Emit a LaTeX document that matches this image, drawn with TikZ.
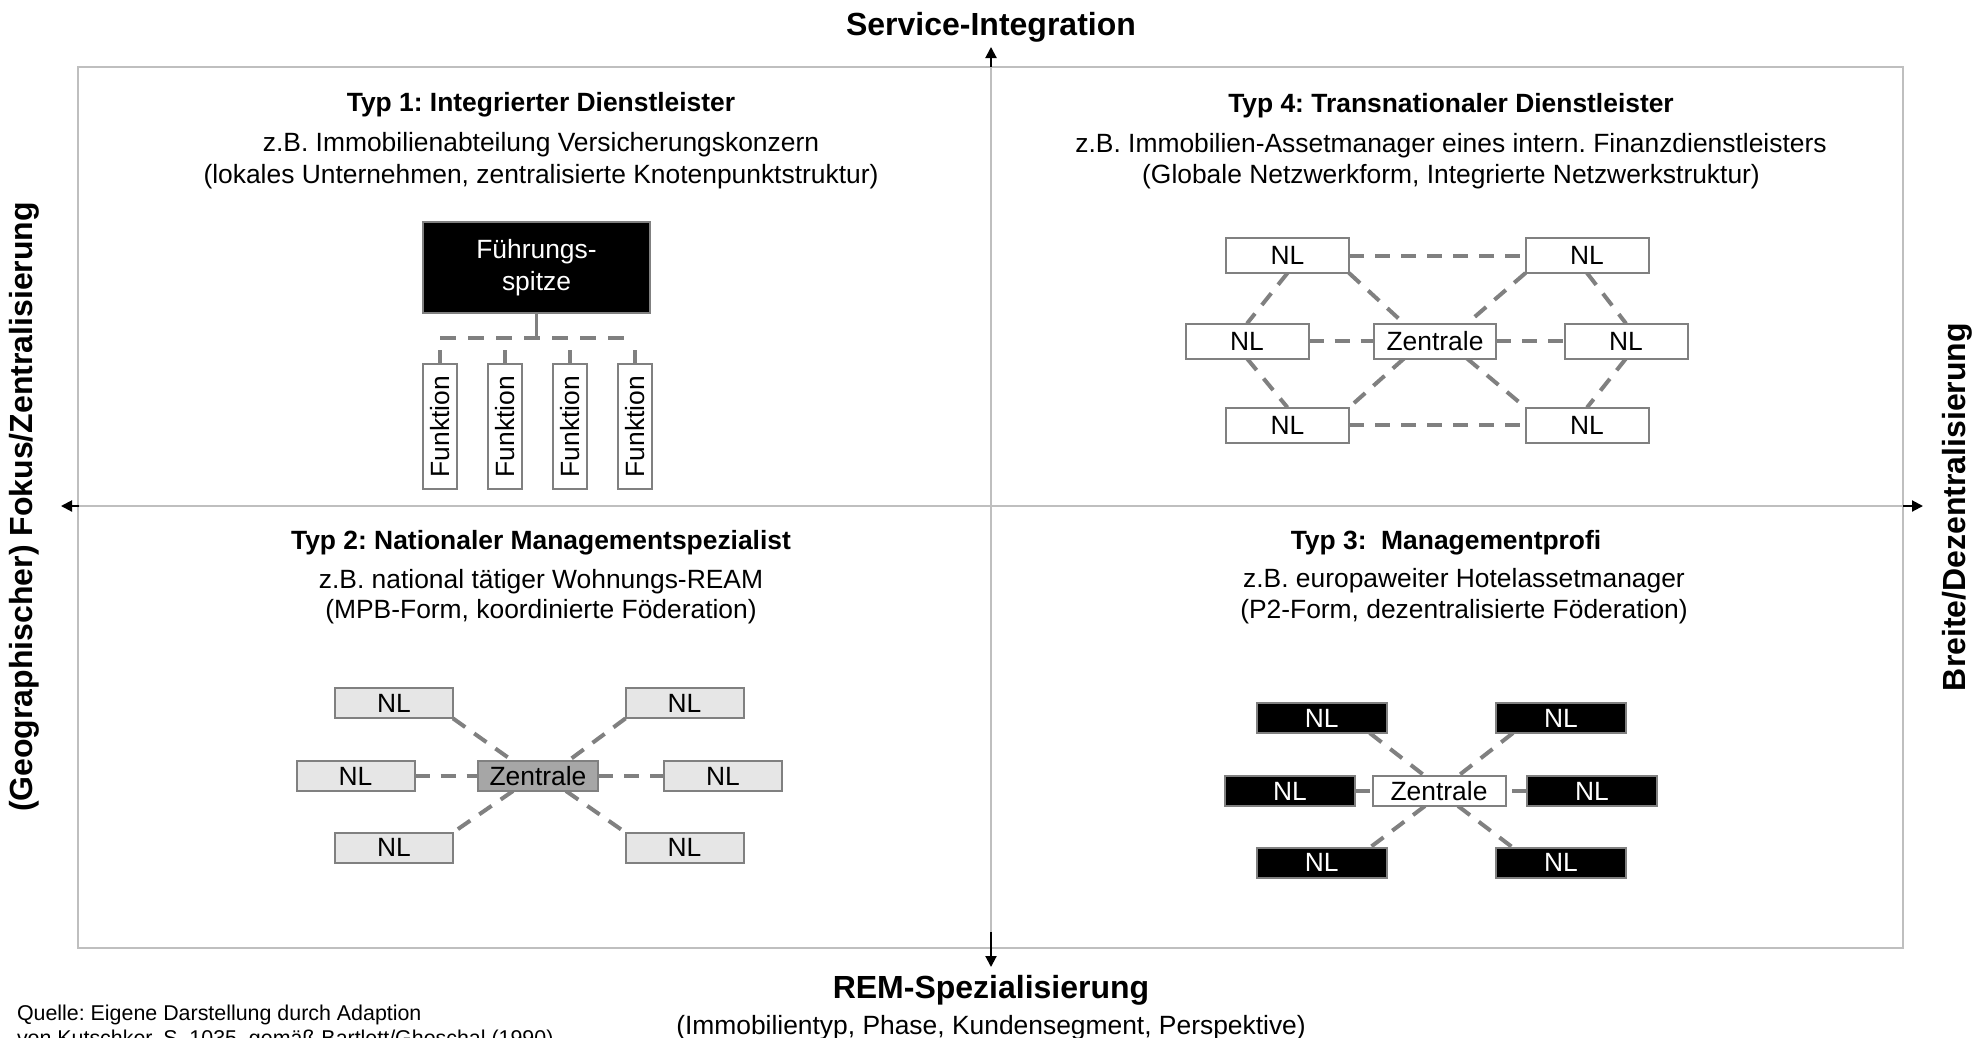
\documentclass[tikz,border=0pt]{standalone}
\usepackage{fontspec}
\setmainfont{Liberation Sans}
\usetikzlibrary{arrows.meta,calc,backgrounds}
\frenchspacing

\definecolor{framegray}{HTML}{BFBFBF}
\definecolor{linegray}{HTML}{808080}
\definecolor{lightfill}{HTML}{E6E6E6}
\definecolor{midfill}{HTML}{A6A6A6}

\tikzset{
  every node/.style={inner sep=0pt, outer sep=0pt},
  body/.style={font=\fontsize{26.4}{32}\selectfont, anchor=base},
  head/.style={font=\fontsize{26.4}{32}\selectfont\bfseries, anchor=base},
  axislabel/.style={font=\fontsize{32}{38}\selectfont\bfseries},
  note/.style={font=\fontsize{21.4}{25}\selectfont, anchor=base west},
  box/.style={draw=linegray, line width=2pt, font=\fontsize{26.4}{32}\selectfont},
  nlwhite/.style={box, fill=white, minimum width=123pt, minimum height=35pt},
  nlgray/.style={box, fill=lightfill, minimum width=118pt, minimum height=30pt},
  nlblack/.style={box, fill=black, text=white, minimum width=130pt, minimum height=30pt},
  funcbox/.style={box, fill=white, rotate=90, minimum width=125pt, minimum height=34pt},
  link/.style={draw=linegray, line width=4pt, dash pattern=on 15pt off 11pt},
  stub/.style={draw=linegray, line width=3.5pt},
  axisline/.style={draw=framegray, line width=1.6pt},
  axarrow/.style={draw=black, line width=2pt, -{Triangle[length=11pt,width=11pt]}},
}

\begin{document}
\begin{tikzpicture}[x=1pt,y=-1pt]
\useasboundingbox (0,0) rectangle (1986,1037);

% ---------- axes and frame ----------
\coordinate (ftl) at (78,67);
\coordinate (fbr) at (1903,948);
\coordinate (axtop) at (991,67);
\coordinate (axbot) at (991,932);
\coordinate (axleft) at (79,506);
\coordinate (axright) at (1903,506);

% ---------- axis labels ----------
\node[axislabel, anchor=base] (lblsi) at (991,35) {Service-Integration};
\node[axislabel, anchor=base] (lblrem) at (991,998) {REM-Spezialisierung};
\node[body] (lblremsub) at (991,1034) {(Immobilientyp, Phase, Kundensegment, Perspektive)};
\node[axislabel, rotate=90] (lblleft) at (24,507) {(Geographischer) Fokus/Zentralisierung};
\node[axislabel, rotate=90] (lblright) at (1957,507) {Breite/Dezentralisierung};

\node[note] (src1) at (17,1020) {Quelle: Eigene Darstellung durch Adaption};
\node[note] (src2) at (17,1045) {von Kutschker, S. 1035, gemäß Bartlett/Ghoschal (1990)};

% ---------- Typ 1 ----------
\node[head] (t1) at (541,111) {Typ 1: Integrierter Dienstleister};
\node[body] (t1a) at (541,151) {z.B. Immobilienabteilung Versicherungskonzern};
\node[body] (t1b) at (541,183) {(lokales Unternehmen, zentralisierte Knotenpunktstruktur)};

\node[box, fill=black, text=white, minimum width=227pt, minimum height=91pt, align=center] (fs) at (536.5,267.5) {Führungs-\\spitze};
\node[funcbox] (f1) at (440,426.5) {Funktion};
\node[funcbox] (f2) at (505,426.5) {Funktion};
\node[funcbox] (f3) at (570,426.5) {Funktion};
\node[funcbox] (f4) at (635,426.5) {Funktion};

% ---------- Typ 4 ----------
\node[head] (t4) at (1451,112) {Typ 4: Transnationaler Dienstleister};
\node[body] (t4a) at (1451,152) {z.B. Immobilien-Assetmanager eines intern. Finanzdienstleisters};
\node[body] (t4b) at (1451,183) {(Globale Netzwerkform, Integrierte Netzwerkstruktur)};

\node[nlwhite] (q4tl) at (1287.5,255.5) {NL};
\node[nlwhite] (q4tr) at (1587,255.5) {NL};
\node[nlwhite] (q4ml) at (1247,341) {NL};
\node[nlwhite, minimum width=122pt] (q4z) at (1435,341) {Zentrale};
\node[nlwhite] (q4mr) at (1626,341) {NL};
\node[nlwhite] (q4bl) at (1287.5,425) {NL};
\node[nlwhite] (q4br) at (1587,425) {NL};

% ---------- Typ 2 ----------
\node[head] (t2) at (541,549) {Typ 2: Nationaler Managementspezialist};
\node[body] (t2a) at (541,588) {z.B. national tätiger Wohnungs-REAM};
\node[body] (t2b) at (541,618) {(MPB-Form, koordinierte Föderation)};

\node[nlgray] (q2tl) at (394,703.4) {NL};
\node[nlgray] (q2tr) at (684.5,703.4) {NL};
\node[nlgray] (q2ml) at (355.5,776) {NL};
\node[nlgray, fill=midfill, minimum width=120pt] (q2z) at (538,776) {Zentrale};
\node[nlgray] (q2mr) at (723,776) {NL};
\node[nlgray] (q2bl) at (394,847.5) {NL};
\node[nlgray] (q2br) at (684.5,847.5) {NL};

% ---------- Typ 3 ----------
\node[head] (t3) at (1446,549) {Typ 3:~~Managementprofi};
\node[body] (t3a) at (1464,587) {z.B. europaweiter Hotelassetmanager};
\node[body] (t3b) at (1464,618) {(P2-Form, dezentralisierte Föderation)};

\node[nlblack] (q3tl) at (1321.7,718) {NL};
\node[nlblack] (q3tr) at (1561,718) {NL};
\node[nlblack] (q3ml) at (1290,791) {NL};
\node[nlblack, fill=white, text=black, minimum width=133pt] (q3z) at (1439,791) {Zentrale};
\node[nlblack] (q3mr) at (1592,791) {NL};
\node[nlblack] (q3bl) at (1321.7,862.7) {NL};
\node[nlblack] (q3br) at (1561,862.7) {NL};

\begin{scope}[on background layer]
  \fill[white] (0,0) rectangle (1986,1037);
  % frame and axes
  \draw[axisline] (ftl) rectangle (fbr);
  \draw[axisline] (axleft) -- (axright);
  \draw[axisline] (axtop) -- (axbot);
  \draw[axarrow] (axtop) -- ++(0,-20);
  \draw[axarrow] (axbot) -- ++(0,35);
  \draw[axarrow] (axleft) -- ++(-18,0);
  \draw[axarrow] (axright) -- ++(20,0);

  % Typ 1: hierarchy
  \draw[stub] (fs.south) -- ++(0,25) coordinate (bus);
  \draw[link, dash pattern=on 16pt off 12pt] (f1.east |- bus) -- (f4.east |- bus);
  \foreach \f in {f1,f2,f3,f4} {
    \draw[stub] (\f.east) -- ++(0,-14);
  }

  % Typ 4: integrated network
  \draw[link] (q4tl.east) -- (q4tr.west);
  \draw[link] (q4tl.south) -- (q4ml.north);
  \draw[link] (q4tl.south east) -- ($(q4z.north)+(-31,0)$);
  \draw[link] (q4tr.south west) -- ($(q4z.north)+(32,0)$);
  \draw[link] (q4tr.south) -- (q4mr.north);
  \draw[link] (q4ml.east) -- (q4z.west);
  \draw[link] (q4z.east) -- (q4mr.west);
  \draw[link] (q4ml.south) -- (q4bl.north);
  \draw[link] ($(q4z.south)+(-31,0)$) -- (q4bl.north east);
  \draw[link] ($(q4z.south)+(32,0)$) -- (q4br.north west);
  \draw[link] (q4mr.south) -- (q4br.north);
  \draw[link] (q4bl.east) -- (q4br.west);

  % Typ 2: coordinated federation
  \draw[link] (q2tl.south east) -- ($(q2z.north)+(-25,0)$);
  \draw[link] (q2tr.south west) -- ($(q2z.north)+(30,0)$);
  \draw[link] (q2ml.east) -- (q2z.west);
  \draw[link] (q2z.east) -- (q2mr.west);
  \draw[link] ($(q2z.south)+(-25,0)$) -- (q2bl.north east);
  \draw[link] ($(q2z.south)+(28,0)$) -- (q2br.north west);

  % Typ 3: decentralised federation
  \draw[link] ($(q3tl.south east)+(-17,0)$) -- ($(q3z.north)+(-14,0)$);
  \draw[link] ($(q3tr.south west)+(17,0)$) -- ($(q3z.north)+(19,0)$);
  \draw[link] (q3ml.east) -- (q3z.west);
  \draw[link] (q3mr.west) -- (q3z.east);
  \draw[link] ($(q3z.south)+(-14,0)$) -- ($(q3bl.north east)+(-17,0)$);
  \draw[link] ($(q3z.south)+(19,0)$) -- ($(q3br.north west)+(17,0)$);
\end{scope}
\end{tikzpicture}
\end{document}
